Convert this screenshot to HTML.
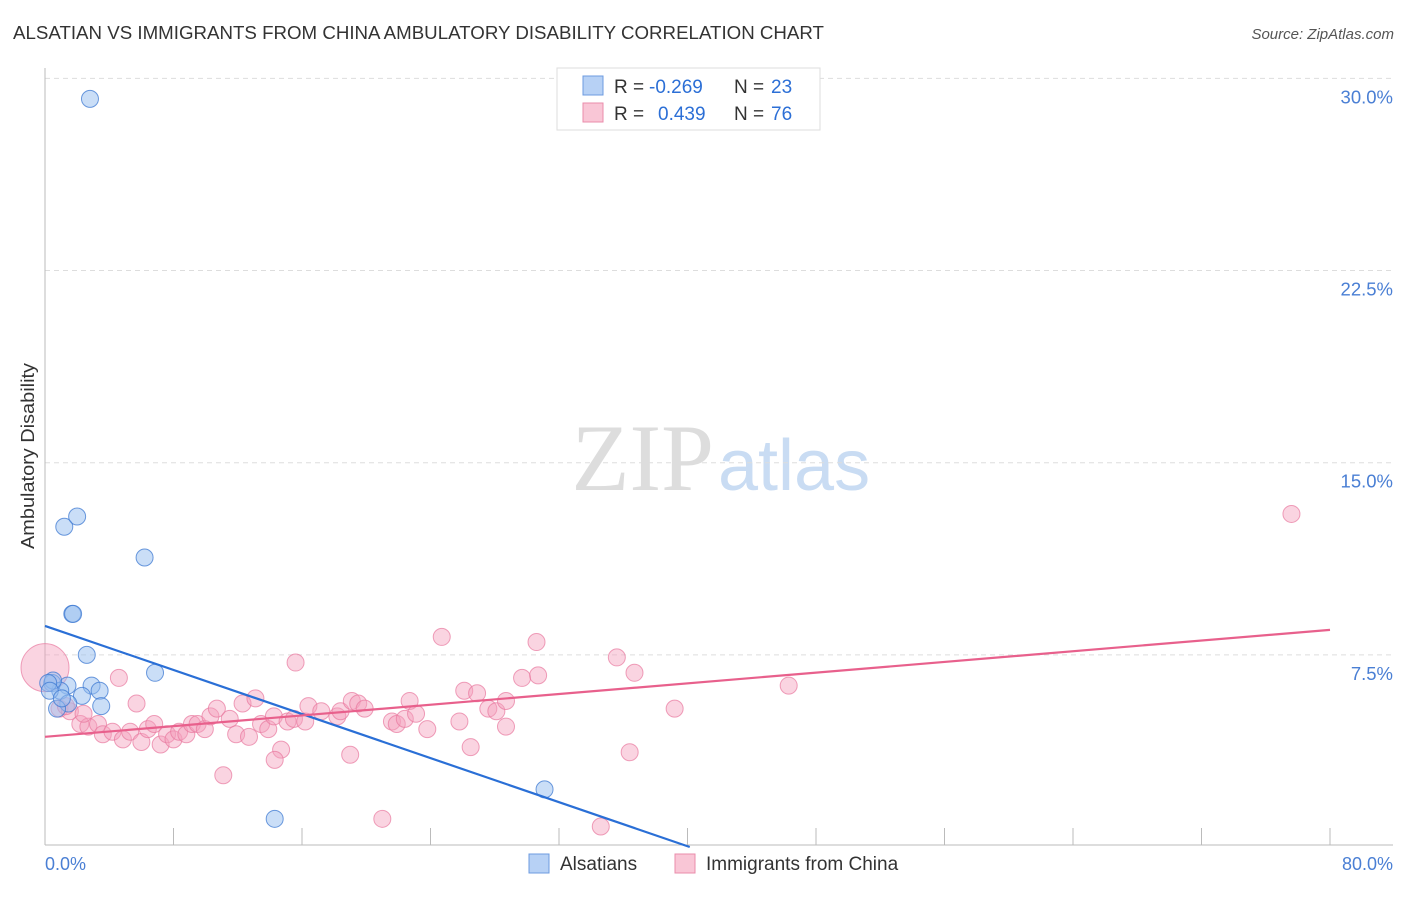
<!DOCTYPE html>
<html><head><meta charset="utf-8"><style>
body{margin:0;background:#fff;font-family:"Liberation Sans",sans-serif;}
</style></head><body>
<svg id="chart" width="1406" height="892" xmlns="http://www.w3.org/2000/svg" font-family="Liberation Sans, sans-serif">
<text x="13" y="39" font-size="18" fill="#333" textLength="811" lengthAdjust="spacingAndGlyphs">ALSATIAN VS IMMIGRANTS FROM CHINA AMBULATORY DISABILITY CORRELATION CHART</text>
<text x="1394" y="39" font-size="15" fill="#555" text-anchor="end" font-style="italic">Source: ZipAtlas.com</text>
<text x="714" y="490" font-size="95" text-anchor="end" fill="#ddd" font-family="Liberation Serif, serif">ZIP</text>
<text x="718" y="490" font-size="72" fill="#c9dcf3">atlas</text>
<g id="grid"></g>
<g id="axes"></g>
<g id="points"></g>
<g id="trends"></g>
<text transform="translate(34,456) rotate(-90)" font-size="18" fill="#333" text-anchor="middle" textLength="186" lengthAdjust="spacingAndGlyphs">Ambulatory Disability</text>
<text x="45" y="870" font-size="18" fill="#4a7fd4">0.0%</text>
<text x="1393" y="870" font-size="18" fill="#4a7fd4" text-anchor="end">80.0%</text>
<g>
<rect x="557" y="68" width="263" height="62" fill="#fff" stroke="#ddd"/>
<rect x="583" y="76" width="20" height="19" fill="#b7d1f5" stroke="#6c9be0"/>
<rect x="583" y="103" width="20" height="19" fill="#f9c6d6" stroke="#ea8cab"/>
<text x="614" y="93" font-size="19" fill="#333">R =</text>
<text x="649" y="93" font-size="19" fill="#2c6fd6">-0.269</text>
<text x="734" y="93" font-size="19" fill="#333">N =</text>
<text x="771" y="93" font-size="19" fill="#2c6fd6">23</text>
<text x="614" y="120" font-size="19" fill="#333">R =</text>
<text x="658" y="120" font-size="19" fill="#2c6fd6">0.439</text>
<text x="734" y="120" font-size="19" fill="#333">N =</text>
<text x="771" y="120" font-size="19" fill="#2c6fd6">76</text>
</g>
<g>
<rect x="529" y="854" width="20" height="19" fill="#b7d1f5" stroke="#6c9be0"/>
<text x="560" y="870" font-size="19" fill="#333">Alsatians</text>
<rect x="675" y="854" width="20" height="19" fill="#f9c6d6" stroke="#ea8cab"/>
<text x="706" y="870" font-size="19" fill="#333">Immigrants from China</text>
</g>
</svg>
<script>
const yTicks=[7.5,15,22.5,30];
const yTickLabels=["7.5%","15.0%","22.5%","30.0%"];
const blueX=[2.8,1.2,2.0,6.2,1.7,1.75,2.6,6.85,0.45,1.4,2.9,3.4,0.95,2.3,1.45,0.75,3.5,0.5,0.2,31.1,14.3,0.3,1.05];
const blueY=[29.2,12.5,12.9,11.3,9.1,9.1,7.5,6.8,6.4,6.3,6.3,6.1,6.1,5.9,5.6,5.4,5.5,6.5,6.4,2.25,1.1,6.1,5.8];
const pinkX=[0,4.6,5.7,0.9,1.55,2.2,2.7,3.3,3.6,4.2,4.85,5.3,6.0,6.4,6.8,7.2,7.6,8.0,8.35,8.8,9.15,9.5,9.95,10.3,10.7,11.1,11.5,11.9,12.3,12.7,13.1,13.45,13.9,14.25,14.7,14.3,15.1,15.5,15.6,16.2,16.4,17.2,18.2,18.4,19.0,19.1,19.5,19.9,21.0,21.6,21.9,22.4,22.7,23.1,23.8,24.7,25.8,26.1,26.5,26.9,27.6,28.1,28.7,28.7,29.7,30.6,30.7,34.6,35.6,36.4,36.7,39.2,46.3,77.6,1.3,2.4];
const pinkY=[7.0,6.6,5.6,5.4,5.3,4.8,4.7,4.8,4.4,4.5,4.2,4.5,4.1,4.6,4.8,4.0,4.4,4.2,4.5,4.4,4.8,4.8,4.6,5.1,5.4,2.8,5.0,4.4,5.6,4.3,5.8,4.8,4.6,5.1,3.8,3.4,4.9,5.0,7.2,4.9,5.5,5.3,5.1,5.3,3.6,5.7,5.6,5.4,1.1,4.9,4.8,5.0,5.7,5.2,4.6,8.2,4.9,6.1,3.9,6.0,5.4,5.3,5.7,4.7,6.6,8.0,6.7,0.8,7.4,3.7,6.8,5.4,6.3,13.0,5.5,5.2];
const blueTrend=[8.63,-0.215];
const pinkTrend=[4.3,0.0522];
const X0=45,X1=1330,Y0=847;
const xs=v=>X0+v/80*(X1-X0);
const ys=v=>Y0-v*25.62;
const NS="http://www.w3.org/2000/svg";
function mk(t,a,p){const e=document.createElementNS(NS,t);for(const k in a)e.setAttribute(k,a[k]);p.appendChild(e);return e;}
const grid=document.getElementById('grid'),axes=document.getElementById('axes'),pts=document.getElementById('points'),tr=document.getElementById('trends');
yTicks.forEach((v,i)=>{
 const l=mk('line',{x1:X0,x2:1393,y1:ys(v),y2:ys(v),stroke:'#ddd','stroke-dasharray':'5,4'},grid);
 
 
 const t=mk('text',{x:1393,y:ys(v)+25,'font-size':18.5,fill:'#4a7fd4','text-anchor':'end'},grid);
 t.textContent=yTickLabels[i];
 
 
});
const ya=mk('line',{x1:X0,x2:X0,y1:68,y2:845,stroke:'#bbb'},axes);


const xa=mk('line',{x1:X0,x2:1393,y1:845,y2:845,stroke:'#bbb'},axes);


for(let i=0;i<=10;i++){
 const t=mk('line',{x1:xs(i*8),x2:xs(i*8),y1:828,y2:845,stroke:'#bbb'},axes);
 
 
}
pinkX.forEach((x,i)=>{
 const c=mk('circle',{cx:xs(x),cy:ys(pinkY[i]),r:i===0?24:8.5,fill:'rgba(244,160,188,0.45)',stroke:'rgba(232,120,158,0.7)','stroke-width':1},pts);
 
 
});
blueX.forEach((x,i)=>{
 const c=mk('circle',{cx:xs(x),cy:ys(blueY[i]),r:8.5,fill:'rgba(150,190,240,0.5)',stroke:'rgba(60,120,210,0.75)','stroke-width':1},pts);
 
 
});
const bEnd=-blueTrend[0]/blueTrend[1];
const bl=mk('line',{x1:xs(0),y1:ys(blueTrend[0]),x2:xs(bEnd),y2:ys(0),stroke:'#2a6fd6','stroke-width':2.2},tr);


const pl=mk('line',{x1:xs(0),y1:ys(pinkTrend[0]),x2:xs(80),y2:ys(pinkTrend[0]+pinkTrend[1]*80),stroke:'#e8608c','stroke-width':2.2},tr);


</script>
</body></html>
